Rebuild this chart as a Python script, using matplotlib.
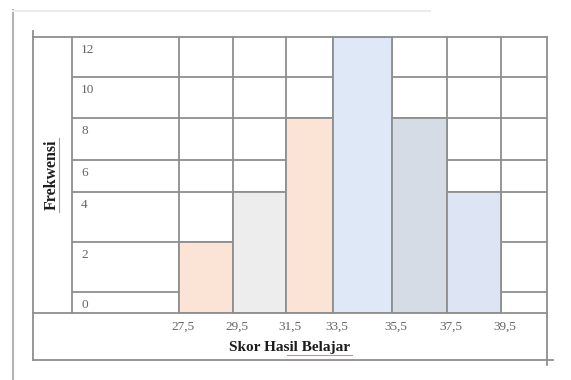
import numpy as np
import matplotlib
matplotlib.use("Agg")
import matplotlib.pyplot as plt
from matplotlib.lines import Line2D

# Data
bin_edges = [27.5, 29.5, 31.5, 33.5, 35.5, 37.5, 39.5]
edge_labels = ["27,5", "29,5", "31,5", "33,5", "35,5", "37,5", "39,5"]
frekwensi = [2, 4, 8, 12, 8, 4]
y_levels = [0, 2, 4, 6, 8, 10, 12]
bar_colors = ["#fbe4d6", "#ededed", "#fbe4d6", "#dfe8f6", "#d6dce5", "#dde5f5"]

# Layout: the original is a Word table with uneven rows and columns,
# so both axes get a piecewise scale built from the table line positions (px)
W, H = 571, 380
edge_px = [179, 233, 286, 333, 392, 447, 501]
level_px = [313, 242, 192, 160, 118, 77, 37]
zero_row_px = 292
tab_left, lab_col, tab_right = 33, 72, 547
tab_top, tab_bottom = 37, 360

line_c = "#8f8f8f"
lw = 1.3
num_c = "#646464"
title_c = "#1c1c1c"
plt.rcParams["font.family"] = ["Liberation Serif", "DejaVu Serif"]


def piecewise(xp, fp):
    xp = np.asarray(xp, float)
    fp = np.asarray(fp, float)
    s0 = (fp[1] - fp[0]) / (xp[1] - xp[0])
    s1 = (fp[-1] - fp[-2]) / (xp[-1] - xp[-2])
    xe = np.r_[xp[0] - 1000, xp, xp[-1] + 1000]
    fe = np.r_[fp[0] - 1000 * s0, fp, fp[-1] + 1000 * s1]
    fwd = lambda v: np.interp(v, xe, fe)
    inv = lambda p: np.interp(p, fe, xe)
    return fwd, inv


fx, ix = piecewise(bin_edges, edge_px)
fy, iy = piecewise(y_levels, [H - p for p in level_px])

fig = plt.figure(figsize=(W / 100, H / 100), dpi=100)
fig.patch.set_facecolor("white")


def fig_line(xs, ys, **kw):
    # table frame lines, given in pixels from the top-left corner
    fig.add_artist(Line2D([x / W for x in xs], [1 - y / H for y in ys],
                          transform=fig.transFigure, **kw))


ax = fig.add_axes([lab_col / W, (H - level_px[0]) / H,
                   (tab_right - lab_col) / W, (level_px[0] - tab_top) / H])
ax.set_xscale("function", functions=(fx, ix))
ax.set_yscale("function", functions=(fy, iy))
ax.set_xlim(ix(lab_col), ix(tab_right))
ax.set_ylim(y_levels[0], y_levels[-1])
ax.axis("off")

# row lines of the table (covered by the bars)
for v in y_levels[1:-1]:
    ax.axhline(v, color=line_c, lw=lw, zorder=1)
ax.axhline(iy(H - zero_row_px), color=line_c, lw=lw, zorder=1)
for e in bin_edges:
    ax.axvline(e, color=line_c, lw=lw, zorder=1, clip_on=False)

# histogram bars
ax.bar(bin_edges[:-1], frekwensi, width=np.diff(bin_edges), align="edge",
       color=bar_colors, edgecolor=line_c, linewidth=lw, zorder=2)

# frequency labels sit in the top-left corner of each table row
for v in y_levels:
    top = v if v > 0 else iy(H - zero_row_px)
    ax.annotate(str(v), xy=(0, top), xycoords=("axes fraction", "data"),
                xytext=(9, -13), textcoords="offset pixels",
                ha="left", va="center", fontsize=9.5, color=num_c)

# class boundary labels under the zero line
for e, lab in zip(bin_edges, edge_labels):
    ax.annotate(lab, xy=(e, 0), xycoords=("data", "axes fraction"),
                xytext=(4, -14), textcoords="offset pixels",
                ha="center", va="center", fontsize=9.5, color=num_c)

# outer table frame
fig_line([tab_left, tab_right], [tab_top, tab_top], color=line_c, lw=lw)
fig_line([tab_left, tab_right], [level_px[0], level_px[0]], color=line_c, lw=lw)
fig_line([lab_col, lab_col], [tab_top, level_px[0]], color=line_c, lw=lw)
fig_line([tab_left, tab_left], [tab_top - 6, tab_bottom], color=line_c, lw=lw)
fig_line([tab_right, tab_right], [tab_top, tab_bottom + 5], color=line_c, lw=lw)
fig_line([tab_left, tab_right + 6], [tab_bottom, tab_bottom], color=line_c, lw=lw)

# page edge of the screenshot
fig_line([13, 13], [10, H], color="#b4b4b4", lw=1.5)
fig_line([13, 430], [11, 11], color="#ececec", lw=1.5)

# axis titles with the spell-check underline
fig.text(52 / W, 1 - 175 / H, "Frekwensi", rotation=90, ha="center", va="center",
         fontsize=11.5, fontweight="bold", color=title_c)
fig_line([59, 59], [138, 212], color="#f08080", lw=0.8)
fig.text(290 / W, 1 - 347 / H, "Skor Hasil Belajar", ha="center", va="center",
         fontsize=11, fontweight="bold", color=title_c)
fig_line([287, 352], [355, 355], color="#f08080", lw=0.8)

fig.savefig("out.png", dpi=100)
